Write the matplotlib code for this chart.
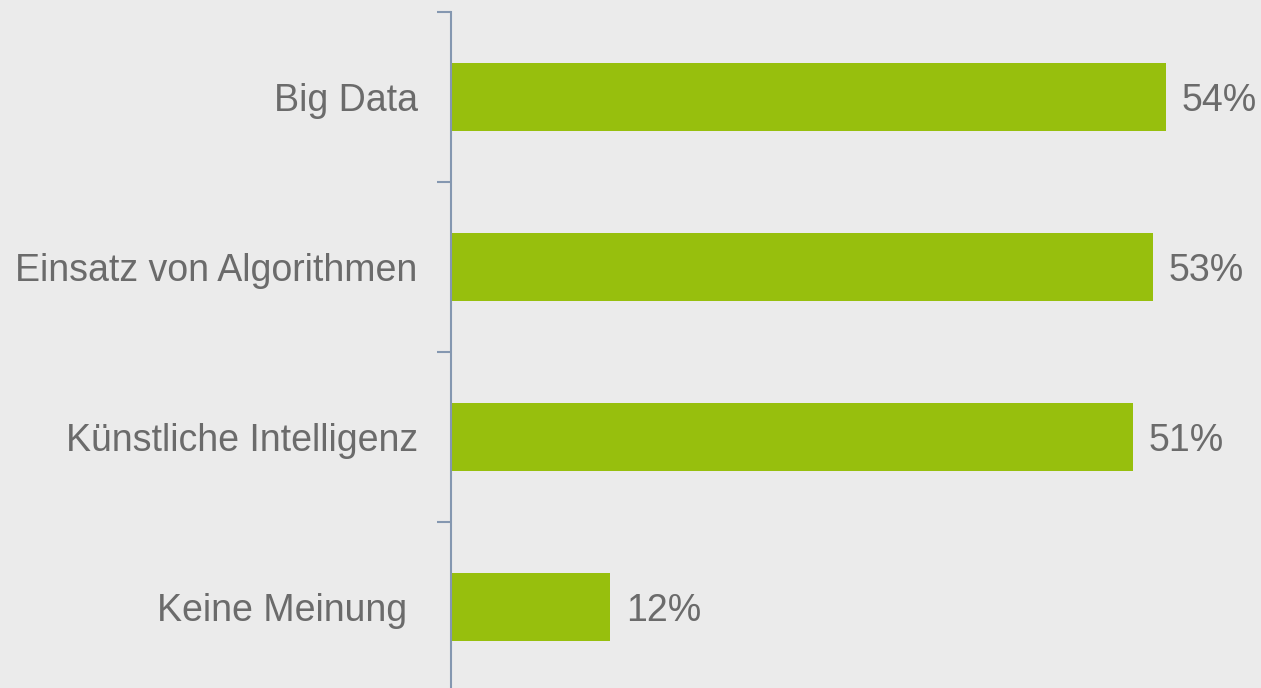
import matplotlib.pyplot as plt

# === Data ===
categories = ["Big Data", "Einsatz von Algorithmen", "Künstliche Intelligenz", "Keine Meinung "]
values = [54, 53, 51.5, 12]
value_labels = ["54%", "53%", "51%", "12%"]

# === Style ===
plt.rcParams['font.family'] = ['Liberation Sans', 'DejaVu Sans']
bg = "#EBEBEB"
bar_color = "#97BF0D"
text_color = "#6B6B6B"
axis_color = "#8497B0"

fig = plt.figure(figsize=(12.61, 6.88), dpi=100, facecolor=bg)
ax = fig.add_axes([451 / 1261, -4 / 688, 810 / 1261, 680 / 688], facecolor=bg)

y = list(range(len(categories)))
ax.barh(y, values, height=0.4, color=bar_color)

# value labels to the right of bars
for yi, v, lab in zip(y, values, value_labels):
    ax.text(v + 1.2, yi, lab, va="center_baseline", ha="left", fontsize=27, color=text_color)

ax.set_xlim(0, 810 / 13.24)
ax.set_ylim(3.5, -0.5)

# boundary ticks (major) and category labels (minor)
ax.set_yticks([-0.5, 0.5, 1.5, 2.5, 3.5])
ax.set_yticklabels([])
ax.tick_params(axis="y", which="major", length=10, width=1.5, color=axis_color, direction="out")
ax.set_yticks(y, minor=True)
ax.set_yticklabels(categories, minor=True)
ax.tick_params(axis="y", which="minor", length=0, pad=24, labelsize=27, labelcolor=text_color)
ax.set_xticks([])

for side in ["top", "right", "bottom"]:
    ax.spines[side].set_visible(False)
ax.spines["left"].set_color(axis_color)
ax.spines["left"].set_linewidth(1.5)

fig.savefig("out.png", dpi=100, facecolor=bg)
